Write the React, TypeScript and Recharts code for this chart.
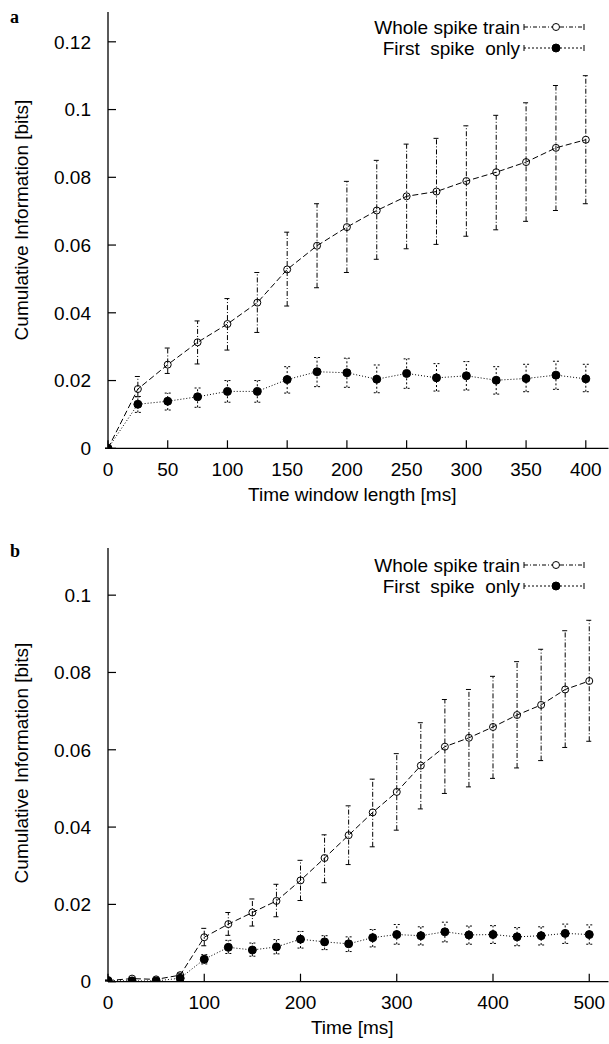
import React from 'react';
import { LineChart, Line, XAxis, YAxis, ErrorBar, Legend, Label } from 'recharts';

// ---------- Panel a ----------
const windowLengths = [0, 25, 50, 75, 100, 125, 150, 175, 200, 225, 250, 275, 300, 325, 350, 375, 400];
const wholeA = [0, 0.0175, 0.0247, 0.0313, 0.0367, 0.043, 0.0528, 0.0598, 0.0653, 0.0702, 0.0744, 0.0758, 0.0789, 0.0815, 0.0845, 0.0887, 0.0911];
const wholeALow = [0, 0.0152, 0.0221, 0.0249, 0.029, 0.0342, 0.042, 0.0474, 0.0519, 0.0558, 0.0589, 0.0602, 0.0626, 0.0645, 0.067, 0.0702, 0.0722];
const wholeAHigh = [0, 0.0212, 0.0296, 0.0376, 0.0442, 0.0519, 0.0638, 0.0722, 0.0788, 0.085, 0.0898, 0.0915, 0.0952, 0.0983, 0.102, 0.1071, 0.11];
const firstA = [0, 0.013, 0.0139, 0.0152, 0.0168, 0.0168, 0.0203, 0.0226, 0.0223, 0.0204, 0.0221, 0.0208, 0.0214, 0.0201, 0.0206, 0.0216, 0.0205];
const firstALow = [0, 0.0106, 0.0113, 0.0121, 0.0136, 0.0136, 0.0163, 0.0182, 0.018, 0.0164, 0.0177, 0.0169, 0.0172, 0.016, 0.0167, 0.0174, 0.0167];
const firstAHigh = [0, 0.0153, 0.0163, 0.0178, 0.02, 0.02, 0.0241, 0.0268, 0.0266, 0.0246, 0.0264, 0.025, 0.0256, 0.0241, 0.0248, 0.0257, 0.0248];
const xTicksA = [0, 50, 100, 150, 200, 250, 300, 350, 400];
const yTicksA = [0, 0.02, 0.04, 0.06, 0.08, 0.1, 0.12];

// ---------- Panel b ----------
const timesB = [0, 25, 50, 75, 100, 125, 150, 175, 200, 225, 250, 275, 300, 325, 350, 375, 400, 425, 450, 475, 500];
const wholeB = [0.0003, 0.0008, 0.0006, 0.0017, 0.0115, 0.0149, 0.0179, 0.0209, 0.0262, 0.032, 0.0379, 0.0438, 0.0491, 0.0559, 0.0608, 0.0631, 0.0659, 0.069, 0.0716, 0.0756, 0.0778];
const wholeBLow = [0.0002, 0.0005, 0.0004, 0.0012, 0.0093, 0.012, 0.0144, 0.0168, 0.021, 0.0256, 0.0303, 0.0349, 0.0392, 0.0447, 0.0487, 0.0504, 0.0526, 0.0553, 0.0572, 0.0606, 0.0622];
const wholeBHigh = [0.0004, 0.0011, 0.0008, 0.0022, 0.0138, 0.0179, 0.0214, 0.0252, 0.0314, 0.038, 0.0455, 0.0524, 0.059, 0.067, 0.073, 0.0756, 0.079, 0.0828, 0.086, 0.0908, 0.0935];
const firstB = [0.0003, 0.0002, 0.0002, 0.0009, 0.0058, 0.0089, 0.0082, 0.009, 0.011, 0.0103, 0.0098, 0.0114, 0.0122, 0.0119, 0.0129, 0.0121, 0.0122, 0.0116, 0.0119, 0.0125, 0.0122];
const firstBLow = [0.0002, 0.0001, 0.0001, 0.0007, 0.0046, 0.0073, 0.0066, 0.0072, 0.0087, 0.0083, 0.0078, 0.009, 0.0097, 0.0095, 0.0103, 0.0097, 0.0099, 0.0093, 0.0095, 0.0099, 0.0097];
const firstBHigh = [0.0004, 0.0003, 0.0003, 0.0011, 0.007, 0.0107, 0.01, 0.0109, 0.013, 0.0119, 0.0116, 0.0135, 0.0148, 0.0142, 0.0154, 0.0144, 0.0145, 0.014, 0.0142, 0.0149, 0.0147];
const xTicksB = [0, 100, 200, 300, 400, 500];
const yTicksB = [0, 0.02, 0.04, 0.06, 0.08, 0.1];

const seriesNames = ['Whole spike train', 'First  spike  only'];

const FONT = '"Liberation Sans", Arial, Helvetica, sans-serif';
const FS = 19;

function buildRows(xs: number[], w: number[], wl: number[], wh: number[], f: number[], fl: number[], fh: number[]) {
  return xs.map((x, i) => ({
    x,
    whole: w[i],
    wholeErr: [w[i] - wl[i], wh[i] - w[i]],
    first: f[i],
    firstErr: [f[i] - fl[i], fh[i] - f[i]],
  }));
}

const dataA = buildRows(windowLengths, wholeA, wholeALow, wholeAHigh, firstA, firstALow, firstAHigh);
const dataB = buildRows(timesB, wholeB, wholeBLow, wholeBHigh, firstB, firstBLow, firstBHigh);

const fmtY = (v: number) => String(+v.toFixed(2));

const makeLegend = (row1: number, row2: number) => () => {
  const rows = [
    { y: row1, name: seriesNames[0], dash: '4 2 1 2', filled: false },
    { y: row2, name: seriesNames[1], dash: '2 2', filled: true },
  ];
  return (
    <svg width={609} height={70} style={{ display: 'block', overflow: 'visible' }}>
      {rows.map((r) => (
        <g key={r.name}>
          <text x={520} y={r.y} textAnchor="end" dominantBaseline="central" fontSize={FS} fontFamily={FONT} fill="#000" style={{ whiteSpace: 'pre' }}>
            {r.name}
          </text>
          <line x1={524} y1={r.y} x2={584} y2={r.y} stroke="#000" strokeWidth={1} strokeDasharray={r.dash} />
          <line x1={524} y1={r.y - 3} x2={524} y2={r.y + 3} stroke="#000" strokeWidth={1} />
          <line x1={584} y1={r.y - 3} x2={584} y2={r.y + 3} stroke="#000" strokeWidth={1} />
          <circle cx={556} cy={r.y} r={r.filled ? 4 : 3.5} fill={r.filled ? '#000' : '#fff'} stroke="#000" strokeWidth={1} />
        </g>
      ))}
    </svg>
  );
};

type PanelProps = {
  data: any[];
  height: number;
  top: number;
  xDomain: [number, number];
  yDomain: [number, number];
  xTicks: number[];
  yTicks: number[];
  xTitle: string;
  titleCenterY: number;
  yTitleCenter: number;
  legendRows: [number, number];
  xAxisHeight: number;
};

function Panel(p: PanelProps) {
  const tickStyle = { fontSize: FS, fill: '#000', fontFamily: FONT };
  const axisLine = { stroke: '#000', strokeWidth: 1.3 };
  const tickLine = { stroke: '#000', strokeWidth: 1.2 };
  return (
    <LineChart
      width={609}
      height={p.height}
      data={p.data}
      margin={{ top: p.top, right: 0.5, bottom: 0, left: 0 }}
      style={{ fontFamily: FONT }}
    >
      <XAxis
        xAxisId="main"
        dataKey="x"
        type="number"
        domain={p.xDomain}
        ticks={p.xTicks}
        allowDataOverflow
        height={p.xAxisHeight}
        tickSize={-8}
        tickMargin={22}
        tick={tickStyle}
        axisLine={axisLine}
        tickLine={tickLine}
        interval={0}
      >
        <Label
          content={(lp: any) => {
            const vb = lp.viewBox || { x: 108, y: 0, width: 500 };
            return (
              <text
                x={vb.x + vb.width / 2 - 6}
                y={vb.y + p.titleCenterY}
                textAnchor="middle"
                dominantBaseline="central"
                fontSize={FS}
                fontFamily={FONT}
                fill="#000"
              >
                {p.xTitle}
              </text>
            );
          }}
        />
      </XAxis>
      <XAxis
        xAxisId="top"
        dataKey="x"
        type="number"
        orientation="top"
        domain={p.xDomain}
        ticks={p.xTicks}
        allowDataOverflow
        height={0}
        tickSize={-8}
        tick={false}
        axisLine={axisLine}
        tickLine={tickLine}
        interval={0}
      />
      <YAxis
        yAxisId="main"
        type="number"
        domain={p.yDomain}
        ticks={p.yTicks}
        allowDataOverflow
        width={108}
        tickSize={-8}
        tickMargin={25}
        tick={tickStyle}
        tickFormatter={fmtY}
        axisLine={axisLine}
        tickLine={tickLine}
        interval={0}
      >
        <Label
          content={() => (
            <text
              transform={`translate(21,${p.yTitleCenter}) rotate(-90)`}
              textAnchor="middle"
              dominantBaseline="central"
              fontSize={FS}
              fontFamily={FONT}
              fill="#000"
            >
              Cumulative Information [bits]
            </text>
          )}
        />
      </YAxis>
      <YAxis
        yAxisId="right"
        type="number"
        orientation="right"
        domain={p.yDomain}
        ticks={p.yTicks}
        allowDataOverflow
        width={0}
        tickSize={-8}
        tick={false}
        axisLine={axisLine}
        tickLine={tickLine}
        interval={0}
      />
      <Legend
        layout="vertical"
        align="center"
        verticalAlign="middle"
        wrapperStyle={{ position: 'absolute', top: 0, left: 0, width: 609, height: 70 }}
        content={makeLegend(p.legendRows[0], p.legendRows[1])}
      />
      <Line
        xAxisId="main"
        yAxisId="main"
        type="linear"
        dataKey="whole"
        name={seriesNames[0]}
        stroke="#000"
        strokeWidth={1}
        strokeDasharray="6 3"
        dot={{ r: 3.5, fill: 'none', stroke: '#000', strokeWidth: 1, strokeDasharray: 'none' }}
        activeDot={false}
        isAnimationActive={false}
      >
        <ErrorBar dataKey="wholeErr" direction="y" width={3} stroke="#000" strokeWidth={1} strokeDasharray="5 2 1 2" />
      </Line>
      <Line
        xAxisId="main"
        yAxisId="main"
        type="linear"
        dataKey="first"
        name={seriesNames[1]}
        stroke="#000"
        strokeWidth={1}
        strokeDasharray="1 2"
        dot={{ r: 4, fill: '#000', stroke: '#000', strokeWidth: 1, strokeDasharray: 'none' }}
        activeDot={false}
        isAnimationActive={false}
      >
        <ErrorBar dataKey="firstErr" direction="y" width={3} stroke="#000" strokeWidth={1} strokeDasharray="2 2" />
      </Line>
    </LineChart>
  );
}

export default function App() {
  return (
    <div style={{ position: 'absolute', left: 0, top: 0, width: 609, height: 1044, background: '#fff', overflow: 'hidden' }}>
      <div style={{ position: 'absolute', left: 0, top: 0 }}>
        <Panel
          data={dataA}
          height={530}
          top={12}
          xDomain={[0, 419]}
          yDomain={[0, 0.1288]}
          xTicks={xTicksA}
          yTicks={yTicksA}
          xTitle="Time window length [ms]"
          titleCenterY={46}
          yTitleCenter={220}
          legendRows={[27, 48]}
          xAxisHeight={81.7}
        />
      </div>
      <div style={{ position: 'absolute', left: 0, top: 530 }}>
        <Panel
          data={dataB}
          height={514}
          top={18}
          xDomain={[0, 520]}
          yDomain={[0, 0.1122]}
          xTicks={xTicksB}
          yTicks={yTicksB}
          xTitle="Time [ms]"
          titleCenterY={46}
          yTitleCenter={233}
          legendRows={[35, 56]}
          xAxisHeight={62.3}
        />
      </div>
      <svg width={40} height={1044} style={{ position: 'absolute', left: 0, top: 0, pointerEvents: 'none' }}>
        <text x={10} y={23} fontFamily='"Liberation Serif", "Times New Roman", serif' fontWeight="bold" fontSize={18} fill="#000">a</text>
        <text x={10} y={557} fontFamily='"Liberation Serif", "Times New Roman", serif' fontWeight="bold" fontSize={18} fill="#000">b</text>
      </svg>
    </div>
  );
}
